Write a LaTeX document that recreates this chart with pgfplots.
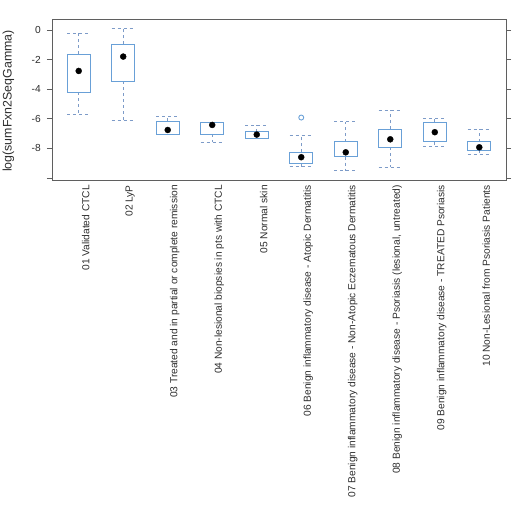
\documentclass[border=0pt]{standalone}
\usepackage{pgfplots}
\pgfplotsset{compat=1.18}
\usepgfplotslibrary{statistics}
\usepackage{fontspec}
\setmainfont{Liberation Sans}
\definecolor{boxblue}{RGB}{105,160,215}
\definecolor{whiskblue}{RGB}{125,155,200}
\definecolor{framegray}{RGB}{95,95,95}
\definecolor{labelgray}{RGB}{45,45,45}
\begin{document}
\begin{tikzpicture}
\useasboundingbox (0,0) rectangle (520pt,514pt);
\begin{axis}[
  at={(52pt,334pt)}, anchor=south west,
  scale only axis, width=454pt, height=161pt,
  xmin=0.4, xmax=10.6, ymin=-10.14, ymax=0.74,
  axis line style={draw=framegray, line width=0.9pt},
  xtick={1,2,3,4,5,6,7,8,9,10},
  xticklabels={01 Validated CTCL, 02 LyP, 03 Treated and in partial or complete remission, 04 Non-lesional biopsies in pts with CTCL, 05 Normal skin, 06 Benign inflammatory disease - Atopic Dermatitis, 07 Benign inflammatory disease - Non-Atopic Eczematous Dermatitis, 08 Benign inflammatory disease - Psoriasis (lesional{,} untreated), 09 Benign inflammatory disease - TREATED Psoriasis, 10 Non-Lesional from Psoriasis Patients},
  xtick style={draw=none},
  x tick label style={rotate=90, anchor=east, font=\fontsize{10.2}{11}\selectfont, text=labelgray, inner sep=0pt, yshift=-7pt},
  ytick={0,-2,-4,-6,-8,-10},
  yticklabels={0,-2,-4,-6,-8,},
  ytick pos=both, yticklabel pos=left,
  tick align=outside, major tick length=5pt,
  ytick style={draw=framegray, line width=0.8pt},
  y tick label style={font=\fontsize{10.2}{11}\selectfont, text=labelgray, inner sep=0pt, xshift=-6pt},
  ylabel={log(sumFxn2SeqGamma)},
  every axis y label/.style={at={(axis description cs:-0.0958,0.4907)}, rotate=90, anchor=center, font=\fontsize{12.4}{13}\selectfont, text=labelgray},
  boxplot/draw direction=y,
  boxplot/box extend=0.52,
  boxplot/whisker extend=0.52,
  boxplot/every whisker/.style={draw=whiskblue, dash pattern=on 3pt off 3pt, line width=0.8pt},
  boxplot/every box/.style={draw=boxblue, line width=0.9pt},
  boxplot/draw/median/.code={\fill[black] (boxplot box cs:\pgfplotsboxplotvalue{median},0.5) circle[radius=3pt];},
]
\addplot[boxplot prepared={draw position=1, lower whisker=-5.70, lower quartile=-4.21, median=-2.77, upper quartile=-1.64, upper whisker=-0.22}] coordinates {};
\addplot[boxplot prepared={draw position=2, lower whisker=-6.13, lower quartile=-3.45, median=-1.80, upper quartile=-0.97, upper whisker=0.09}] coordinates {};
\addplot[boxplot prepared={draw position=3, lower whisker=-7.05, lower quartile=-7.05, median=-6.76, upper quartile=-6.15, upper whisker=-5.83}] coordinates {};
\addplot[boxplot prepared={draw position=4, lower whisker=-7.59, lower quartile=-7.03, median=-6.42, upper quartile=-6.26, upper whisker=-6.26}] coordinates {};
\addplot[boxplot prepared={draw position=5, lower whisker=-7.32, lower quartile=-7.32, median=-7.07, upper quartile=-6.87, upper whisker=-6.42}] coordinates {};
\addplot[boxplot prepared={draw position=6, lower whisker=-9.23, lower quartile=-9.05, median=-8.60, upper quartile=-8.27, upper whisker=-7.14}, mark=o, mark size=2.5pt, mark options={draw=boxblue, line width=0.9pt, solid}] table[row sep=\\, y index=0] {-5.92\\};
\addplot[boxplot prepared={draw position=7, lower whisker=-9.50, lower quartile=-8.56, median=-8.27, upper quartile=-7.54, upper whisker=-6.19}] coordinates {};
\addplot[boxplot prepared={draw position=8, lower whisker=-9.28, lower quartile=-7.93, median=-7.39, upper quartile=-6.71, upper whisker=-5.41}] coordinates {};
\addplot[boxplot prepared={draw position=9, lower whisker=-7.88, lower quartile=-7.54, median=-6.91, upper quartile=-6.24, upper whisker=-6.01}] coordinates {};
\addplot[boxplot prepared={draw position=10, lower whisker=-8.38, lower quartile=-8.11, median=-7.93, upper quartile=-7.54, upper whisker=-6.71}] coordinates {};
\end{axis}
\end{tikzpicture}
\end{document}
